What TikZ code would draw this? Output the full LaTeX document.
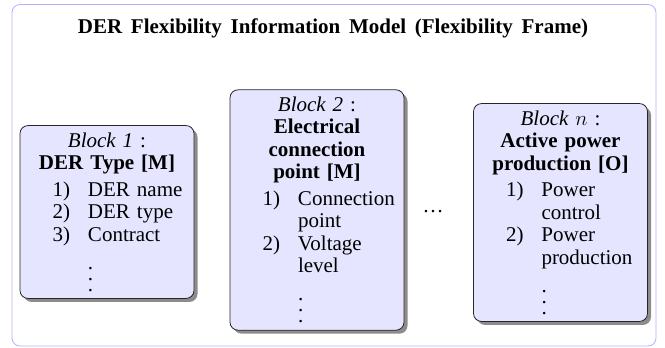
\documentclass[tikz,border=0pt]{standalone}
\usepackage{fontspec}
\setmainfont{Liberation Serif}
\usetikzlibrary{shadows}
\setlength\parindent{0pt}
\newcommand{\blkfont}{\fontsize{21}{22.5}\selectfont\hyphenpenalty=10000\exhyphenpenalty=10000}
\newcommand{\ttlfont}{\fontsize{21}{22.5}\selectfont\bfseries\spaceskip=8.7pt plus 1pt}
\newcommand{\blkhead}[1]{{\centering #1\par}\vspace{4pt}}
\newcommand{\blkitem}[2]{\par\hangindent=62pt\hangafter=1\noindent\hspace*{27pt}\makebox[17pt][r]{#1}\hspace{18pt}#2\par}
\newcommand{\blkdots}{\par\vspace{5.5pt}\noindent\hspace*{62pt}.\par\vspace{-11.5pt}\noindent\hspace*{62pt}.\par\vspace{-11.5pt}\noindent\hspace*{62pt}.\par}
\tikzset{
  blk/.style={draw=black!85, line width=0.8pt, rounded corners=8pt, fill=blue!10,
    text width=162pt, inner xsep=6pt, inner ysep=7pt, align=left, font=\blkfont,
    drop shadow={shadow xshift=3.5pt, shadow yshift=-3.5pt, fill=black!45, opacity=1}},
  outerframe/.style={draw=blue!30, line width=0.8pt, rounded corners=8pt},
  ttl/.style={font=\ttlfont, anchor=base, inner sep=0pt},
  sep/.style={font=\blkfont, inner sep=0pt}
}
\begin{document}
\begin{tikzpicture}[x=1pt, y=-1pt]
\useasboundingbox (0,0) rectangle (665,348);
\draw[outerframe] (12,4.5) rectangle (656,346);
\node[ttl] (title) at (333,34) {DER Flexibility Information Model (Flexibility Frame)};
\node[blk] (b1) at (107,212) {%
  \blkhead{\textit{Block 1} :\\ \textbf{DER Type [M]}}%
  \blkitem{1)}{DER name}%
  \blkitem{2)}{DER type}%
  \blkitem{3)}{Contract}%
  \blkdots};
\node[blk] (b2) at (317,210) {%
  \blkhead{\textit{Block 2} :\\ \textbf{Electrical}\\ \textbf{connection}\\ \textbf{point [M]}}%
  \blkitem{1)}{Connection point}%
  \blkitem{2)}{Voltage level}%
  \blkdots};
\node[blk] (bn) at (560.5,212.5) {%
  \blkhead{\textit{Block $n$} :\\ \textbf{Active power}\\ \textbf{production [O]}}%
  \blkitem{1)}{Power control}%
  \blkitem{2)}{Power production}%
  \blkdots};
\node[sep] (dots) at (433,212) {\dots};
\end{tikzpicture}
\end{document}
